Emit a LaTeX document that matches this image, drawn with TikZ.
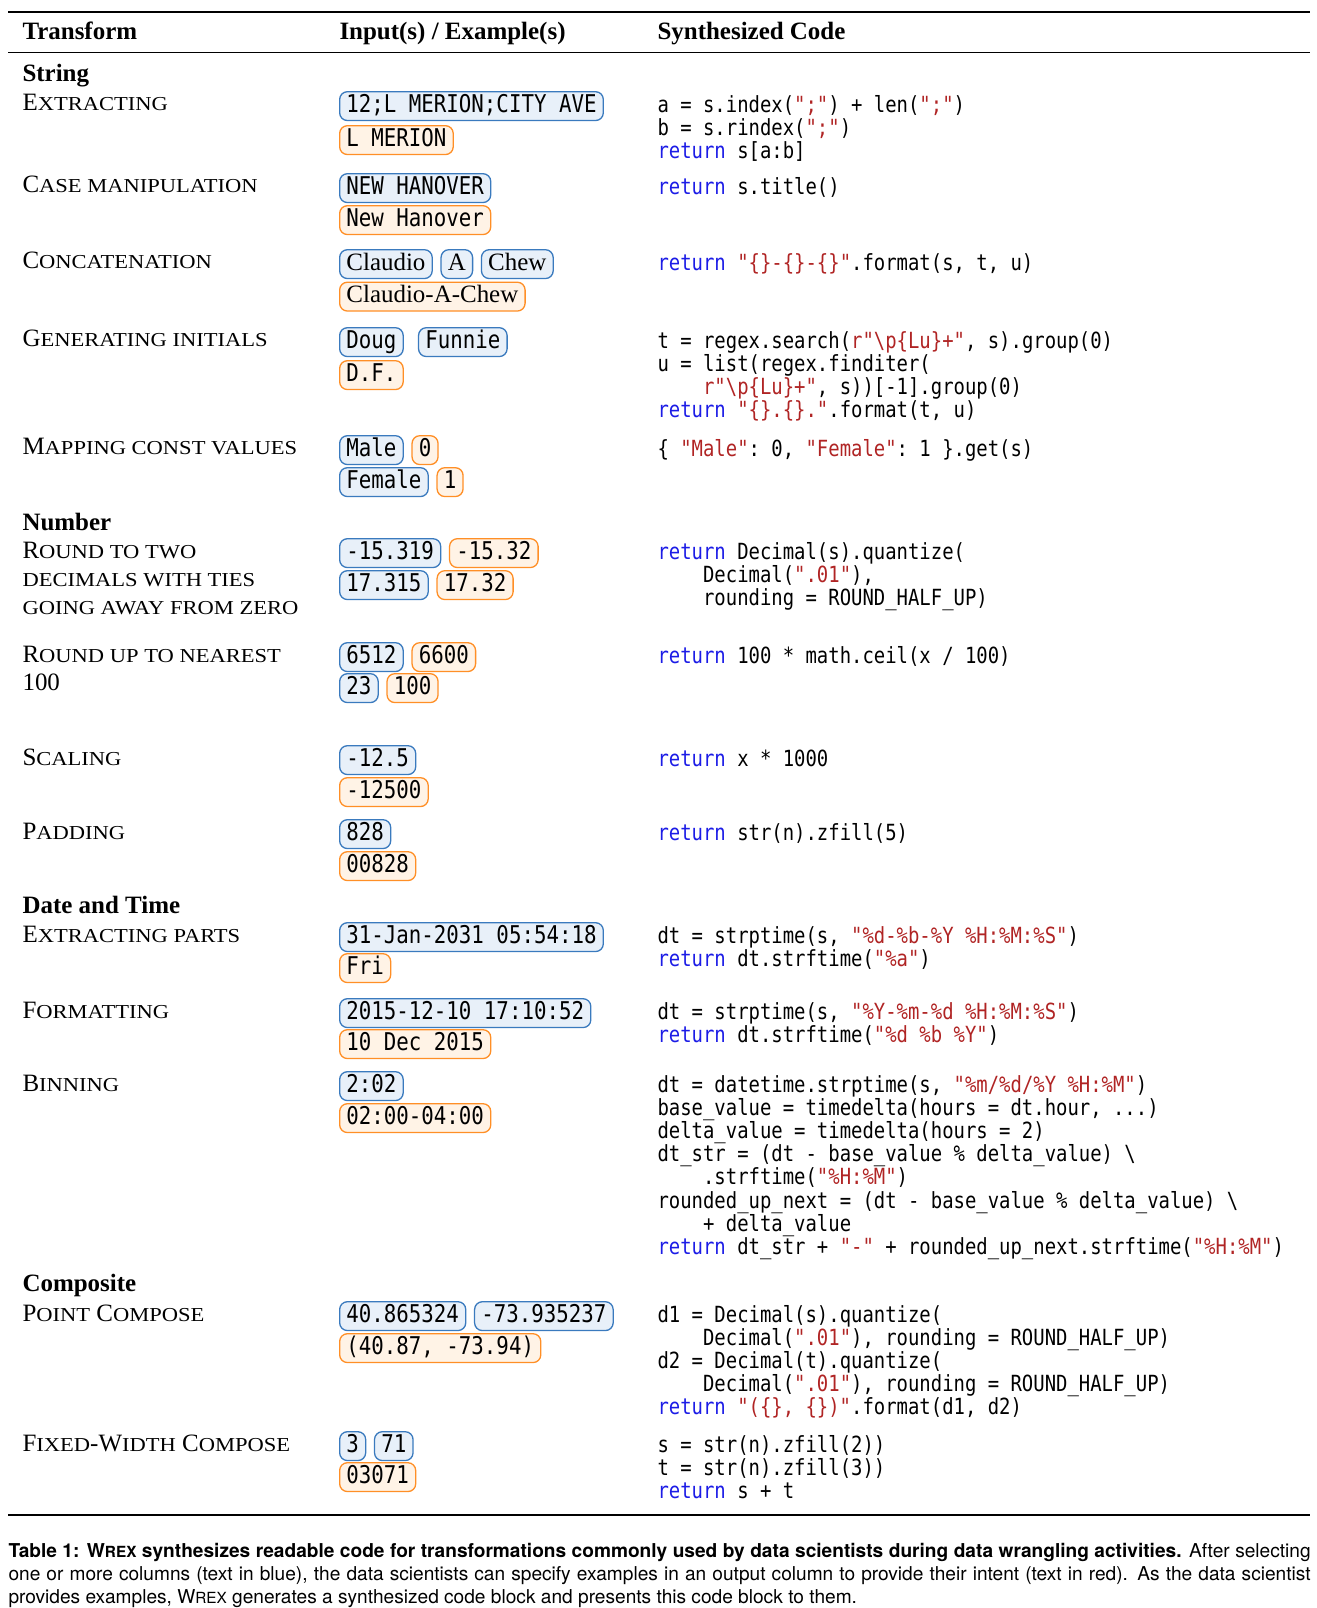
\documentclass[tikz,border=0pt]{standalone}
\usepackage{fontspec}
\setmainfont{Liberation Serif}
\setmonofont{DejaVu Sans Mono}[FakeStretch=0.85]
\newfontfamily\scfont{Liberation Serif}[FakeStretch=1.14]
\newfontfamily\capfont{TeX Gyre Heros}
\usetikzlibrary{positioning}

\definecolor{inblue}{RGB}{58,122,190}
\definecolor{infill}{RGB}{232,240,249}
\definecolor{outorange}{RGB}{255,143,38}
\definecolor{outfill}{RGB}{255,243,230}
\definecolor{kwblue}{RGB}{28,28,230}
\definecolor{strred}{RGB}{176,36,36}

\newcommand{\kwd}[1]{\textcolor{kwblue}{#1}}
\newcommand{\strg}[1]{\textcolor{strred}{#1}}
\newcommand{\fsc}[1]{{\scfont\fontsize{7.6}{8}\selectfont #1}}
\newcommand{\ind}{\phantom{xxxx}}
\newcommand{\codefont}{\ttfamily\fontsize{8.56}{9}\selectfont}
\newcommand{\tagfont}{\ttfamily\fontsize{9.4}{10}\selectfont}
\newcommand{\bodyfont}{\fontsize{9.6}{11}\selectfont}
\newcommand{\wrex}{W{\fontsize{5.9}{7}\selectfont REX}}

\begin{document}
\begin{tikzpicture}[
        x                 = 0.3846pt,
        y                 = -0.3846pt,
        every node/.style = {inner sep=0pt, font=\bodyfont},
        lab/.style        = {anchor=base west},
        head/.style       = {anchor=base west, font=\bodyfont\bfseries},
        code/.style       = {anchor=base west, font=\codefont, yshift=-0.6pt},
        tagbox/.style     = {draw, rounded corners=3pt, line width=0.5pt, anchor=base west,
                             inner xsep=2.6pt, inner ysep=1.1pt,
                             text height=6.9pt, text depth=2pt, font=\tagfont},
        inp/.style        = {tagbox, draw=inblue, fill=infill},
        outp/.style       = {tagbox, draw=outorange, fill=outfill},
        serif/.style      = {font=\bodyfont},
        node distance     = 2.9pt,
      ]
    \useasboundingbox (0,0) rectangle (1317,1608);

    % rules
    \coordinate (top-l) at (8,12);     \coordinate (top-r) at (1310,12);
    \coordinate (mid-l) at (8,52.7);   \coordinate (mid-r) at (1310,52.7);
    \coordinate (bot-l) at (8,1515);   \coordinate (bot-r) at (1310,1515);
    \draw[line width=0.75pt] (top-l) -- (top-r);
    \draw[line width=0.5pt]  (mid-l) -- (mid-r);
    \draw[line width=0.75pt] (bot-l) -- (bot-r);

    % header
    \node[head] (h-tr) at (22,39.5)  {Transform};
    \node[head] (h-in) at (339,39.5) {Input(s) / Example(s)};
    \node[head] (h-co) at (657,39.5) {Synthesized Code};

    % String
    \node[head] (s-str) at (22,82) {String};

    \node[lab] (l-ex) at (22,111) {E\fsc{XTRACTING}};
    \node[inp]  (ex-in)  at (339,112.5) {12;L MERION;CITY AVE};
    \node[outp] (ex-out) at (339,146.5) {L MERION};
    \node[code] (ex-c1) at (657,111)   {a = s.index(\strg{";"}) + len(\strg{";"})};
    \node[code] (ex-c2) at (657,134.1) {b = s.rindex(\strg{";"})};
    \node[code] (ex-c3) at (657,157.2) {\kwd{return} s[a:b]};

    \node[lab] (l-case) at (22,193) {C\fsc{ASE MANIPULATION}};
    \node[inp]  (case-in)  at (339,194.5) {NEW HANOVER};
    \node[outp] (case-out) at (339,226.5) {New Hanover};
    \node[code] (case-c1) at (657,193) {\kwd{return} s.title()};

    \node[lab] (l-cat) at (22,269) {C\fsc{ONCATENATION}};
    \node[inp, serif]  (cat-in1) at (339,270.5) {Claudio};
    \node[inp, serif]  (cat-in2) [base right=of cat-in1] {A};
    \node[inp, serif]  (cat-in3) [base right=of cat-in2] {Chew};
    \node[outp, serif] (cat-out) at (339,303) {Claudio-A-Chew};
    \node[code] (cat-c1) at (657,269) {\kwd{return} \strg{"\{\}-\{\}-\{\}"}.format(s, t, u)};

    \node[lab] (l-ini) at (22,347) {G\fsc{ENERATING INITIALS}};
    \node[inp]  (ini-in1) at (339,348.5) {Doug};
    \node[inp]  (ini-in2) [base right=5.4pt of ini-in1] {Funnie};
    \node[outp] (ini-out) at (339,381.5) {D.F.};
    \node[code] (ini-c1) at (657,347)   {t = regex.search(\strg{r"\textbackslash p\{Lu\}+"}, s).group(0)};
    \node[code] (ini-c2) at (657,370.1) {u = list(regex.finditer(};
    \node[code] (ini-c3) at (657,393.2) {\ind\strg{r"\textbackslash p\{Lu\}+"}, s))[-1].group(0)};
    \node[code] (ini-c4) at (657,416.3) {\kwd{return} \strg{"\{\}.\{\}."}.format(t, u)};

    \node[lab] (l-map) at (22,455) {M\fsc{APPING CONST VALUES}};
    \node[inp]  (map-in1)  at (339,456.5) {Male};
    \node[outp] (map-out1) [base right=of map-in1] {0};
    \node[inp]  (map-in2)  at (339,488.5) {Female};
    \node[outp] (map-out2) [base right=of map-in2] {1};
    \node[code] (map-c1) at (657,455) {\{ \strg{"Male"}: 0, \strg{"Female"}: 1 \}.get(s)};

    % Number
    \node[head] (s-num) at (22,530) {Number};

    \node[lab] (l-rt1) at (22,558) {R\fsc{OUND TO TWO}};
    \node[lab] (l-rt2) at (22,586) {\fsc{DECIMALS WITH TIES}};
    \node[lab] (l-rt3) at (22,614) {\fsc{GOING AWAY FROM ZERO}};
    \node[inp]  (rt-in1)  at (339,559.5) {-15.319};
    \node[outp] (rt-out1) [base right=of rt-in1] {-15.32};
    \node[inp]  (rt-in2)  at (339,591.5) {17.315};
    \node[outp] (rt-out2) [base right=of rt-in2] {17.32};
    \node[code] (rt-c1) at (657,558)   {\kwd{return} Decimal(s).quantize(};
    \node[code] (rt-c2) at (657,581.1) {\ind Decimal(\strg{".01"}),};
    \node[code] (rt-c3) at (657,604.2) {\ind rounding = ROUND\_HALF\_UP)};

    \node[lab] (l-ru1) at (22,662) {R\fsc{OUND UP TO NEAREST}};
    \node[lab] (l-ru2) at (22,690) {100};
    \node[inp]  (ru-in1)  at (339,663.5) {6512};
    \node[outp] (ru-out1) [base right=of ru-in1] {6600};
    \node[inp]  (ru-in2)  at (339,694.5) {23};
    \node[outp] (ru-out2) [base right=of ru-in2] {100};
    \node[code] (ru-c1) at (657,662) {\kwd{return} 100 * math.ceil(x / 100)};

    \node[lab] (l-sc) at (22,765) {S\fsc{CALING}};
    \node[inp]  (sc-in)  at (339,766.5) {-12.5};
    \node[outp] (sc-out) at (339,798.5) {-12500};
    \node[code] (sc-c1) at (657,765) {\kwd{return} x * 1000};

    \node[lab] (l-pad) at (22,839) {P\fsc{ADDING}};
    \node[inp]  (pad-in)  at (339,840.5) {828};
    \node[outp] (pad-out) at (339,872.5) {00828};
    \node[code] (pad-c1) at (657,839) {\kwd{return} str(n).zfill(5)};

    % Date and Time
    \node[head] (s-dt) at (22,913) {Date and Time};

    \node[lab] (l-xp) at (22,942) {E\fsc{XTRACTING PARTS}};
    \node[inp]  (xp-in)  at (339,943.5) {31-Jan-2031 05:54:18};
    \node[outp] (xp-out) at (339,974.5) {Fri};
    \node[code] (xp-c1) at (657,942)   {dt = strptime(s, \strg{"\%d-\%b-\%Y \%H:\%M:\%S"})};
    \node[code] (xp-c2) at (657,965.1) {\kwd{return} dt.strftime(\strg{"\%a"})};

    \node[lab] (l-fmt) at (22,1018) {F\fsc{ORMATTING}};
    \node[inp]  (fmt-in)  at (339,1019.5) {2015-12-10 17:10:52};
    \node[outp] (fmt-out) at (339,1050.5) {10 Dec 2015};
    \node[code] (fmt-c1) at (657,1018)   {dt = strptime(s, \strg{"\%Y-\%m-\%d \%H:\%M:\%S"})};
    \node[code] (fmt-c2) at (657,1041.1) {\kwd{return} dt.strftime(\strg{"\%d \%b \%Y"})};

    \node[lab] (l-bin) at (22,1091) {B\fsc{INNING}};
    \node[inp]  (bin-in)  at (339,1092.5) {2:02};
    \node[outp] (bin-out) at (339,1124.5) {02:00-04:00};
    \node[code] (bin-c1) at (657,1091)   {dt = datetime.strptime(s, \strg{"\%m/\%d/\%Y \%H:\%M"})};
    \node[code] (bin-c2) at (657,1114.1) {base\_value = timedelta(hours = dt.hour, ...)};
    \node[code] (bin-c3) at (657,1137.2) {delta\_value = timedelta(hours = 2)};
    \node[code] (bin-c4) at (657,1160.3) {dt\_str = (dt - base\_value \% delta\_value) \textbackslash};
    \node[code] (bin-c5) at (657,1183.4) {\ind.strftime(\strg{"\%H:\%M"})};
    \node[code] (bin-c6) at (657,1206.5) {rounded\_up\_next = (dt - base\_value \% delta\_value) \textbackslash};
    \node[code] (bin-c7) at (657,1229.6) {\ind+ delta\_value};
    \node[code] (bin-c8) at (657,1252.7) {\kwd{return} dt\_str + \strg{"-"} + rounded\_up\_next.strftime(\strg{"\%H:\%M"})};

    % Composite
    \node[head] (s-cmp) at (22,1291.5) {Composite};

    \node[lab] (l-pt) at (22,1321) {P\fsc{OINT} C\fsc{OMPOSE}};
    \node[inp]  (pt-in1) at (339,1322.5) {40.865324};
    \node[inp]  (pt-in2) [base right=of pt-in1] {-73.935237};
    \node[outp] (pt-out) at (339,1354.5) {(40.87, -73.94)};
    \node[code] (pt-c1) at (657,1321)   {d1 = Decimal(s).quantize(};
    \node[code] (pt-c2) at (657,1344.1) {\ind Decimal(\strg{".01"}), rounding = ROUND\_HALF\_UP)};
    \node[code] (pt-c3) at (657,1367.2) {d2 = Decimal(t).quantize(};
    \node[code] (pt-c4) at (657,1390.3) {\ind Decimal(\strg{".01"}), rounding = ROUND\_HALF\_UP)};
    \node[code] (pt-c5) at (657,1413.4) {\kwd{return} \strg{"(\{\}, \{\})"}.format(d1, d2)};

    \node[lab] (l-fw) at (22,1451) {F\fsc{IXED}-W\fsc{IDTH} C\fsc{OMPOSE}};
    \node[inp]  (fw-in1) at (339,1452.5) {3};
    \node[inp]  (fw-in2) [base right=of fw-in1] {71};
    \node[outp] (fw-out) at (339,1483.5) {03071};
    \node[code] (fw-c1) at (657,1451)   {s = str(n).zfill(2))};
    \node[code] (fw-c2) at (657,1474.1) {t = str(n).zfill(3))};
    \node[code] (fw-c3) at (657,1497.2) {\kwd{return} s + t};

    % caption
    \node[anchor=north west, text width=500.8pt, align=justify,
          font=\capfont\fontsize{7.35}{8.88}\selectfont] (cap) at (8,1543)
        {\hyphenpenalty=10000 \textbf{Table 1: \wrex{} synthesizes readable code for transformations commonly used by data scientists during data wrangling activities.} After selecting one or more columns (text in blue), the data scientists can specify examples in an output column to provide their intent (text in red). As the data scientist provides examples, \wrex{} generates a synthesized code block and presents this code block to them.};
\end{tikzpicture}
\end{document}
